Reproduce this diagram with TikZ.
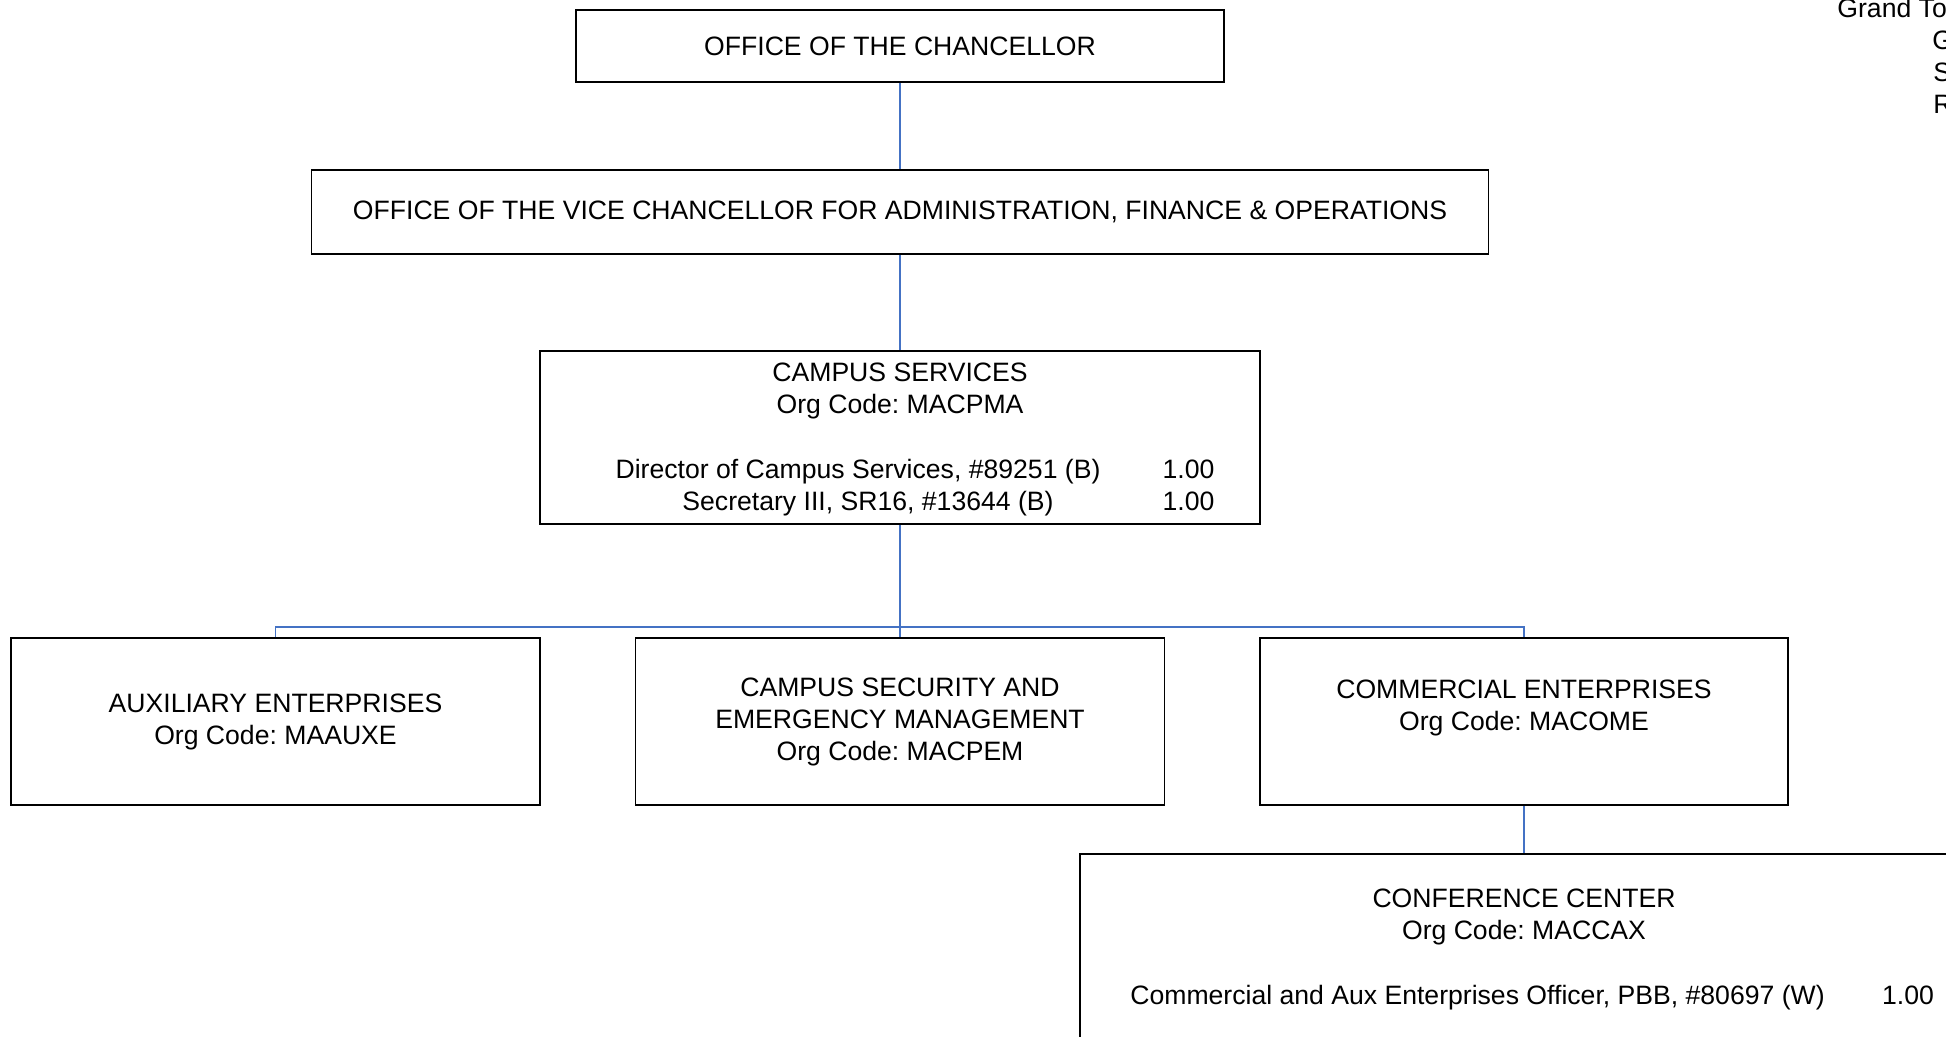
\documentclass[tikz,border=0pt]{standalone}
\usepackage{fontspec}
\setmainfont{Liberation Sans}
\frenchspacing
\usepackage{tikz}
\usetikzlibrary{calc}
\definecolor{linkblue}{RGB}{68,114,196}
\tikzset{
	every node/.style={font=\fontsize{13.3}{16}\selectfont},
	orgbox/.style={draw=black, line width=0.8pt, rectangle, align=center, inner sep=0pt},
	orgtext/.style={inner sep=0pt, anchor=base},
	orglink/.style={draw=linkblue, line width=0.7pt},
}

\begin{document}
\begin{tikzpicture}[x=0.5pt,y=-0.5pt]
	% page size (pixel units, y going down)
	\useasboundingbox (0,0) rectangle (1946,1037);
	\clip (0,0) rectangle (1946,1037);
	
	% level positions
	\def\busy{627}
	\def\rowy{721.5}
	
	% top offices
	\node[orgbox, minimum width=324pt, minimum height=36pt] (chanc) at (900,46) {OFFICE OF THE CHANCELLOR};
	\node[orgbox, minimum width=588.5pt, minimum height=42pt] (vc) at (900,212) {OFFICE OF THE VICE CHANCELLOR FOR ADMINISTRATION, FINANCE \& OPERATIONS};
	
	% campus services box with its positions
	\node[orgbox, minimum width=360pt, minimum height=86.5pt] (cs) at (900,437.5) {};
	\node[align=center, inner sep=0pt] (cstitle) at (900,391) {CAMPUS SERVICES\\Org Code: MACPMA};
	\node[orgtext] (csdir) at (858,478.5) {Director of Campus Services, \#89251 (B)};
	\node[orgtext] (csdirfte) at (1188.5,478.5) {1.00};
	\node[orgtext] (cssec) at (868,510.5) {Secretary III, SR16, \#13644 (B)};
	\node[orgtext] (cssecfte) at (1188.5,510.5) {1.00};
	
	% second row
	\node[orgbox, minimum width=264.5pt, minimum height=83.5pt] (aux) at (275.5,\rowy) {AUXILIARY ENTERPRISES\\Org Code: MAAUXE};
	\node[orgbox, minimum width=264.5pt, minimum height=83.5pt] (sec) at (900,\rowy) {CAMPUS SECURITY AND\\EMERGENCY MANAGEMENT\\Org Code: MACPEM};
	\node[orgbox, minimum width=264pt, minimum height=83.5pt] (com) at (1524,\rowy) {COMMERCIAL ENTERPRISES\\Org Code: MACOME\\\mbox{}};
	
	% conference center (runs off the page)
	\node[orgbox, minimum width=444pt, minimum height=109pt] (conf) at (1524,963) {};
	\node[align=center, inner sep=0pt] (conftitle) at (1524,917) {CONFERENCE CENTER\\Org Code: MACCAX};
	\node[orgtext] (confoff) at (1477.5,1004.5) {Commercial and Aux Enterprises Officer, PBB, \#80697 (W)};
	\node[orgtext] (confofffte) at (1908,1004.5) {1.00};
	
	% totals column at the right edge
	\node[orgtext, anchor=base west] (gtot) at (1837,18) {Grand To};
	\node[orgtext, anchor=base west] (gsum) at (1932,50) {G};
	\node[orgtext, anchor=base west] (ssum) at (1933,82) {S};
	\node[orgtext, anchor=base west] (rsum) at (1933,114) {R};
	
	% connectors
	\coordinate (bus) at (900,\busy);
	\draw[orglink] (chanc.south) -- (vc.north);
	\draw[orglink] (vc.south) -- (cs.north);
	\draw[orglink] (cs.south) -- (sec.north);
	\draw[orglink] (aux.north) |- (bus) -| (com.north);
	\draw[orglink] (com.south) -- (conf.north);
	
\end{tikzpicture}
\end{document}
